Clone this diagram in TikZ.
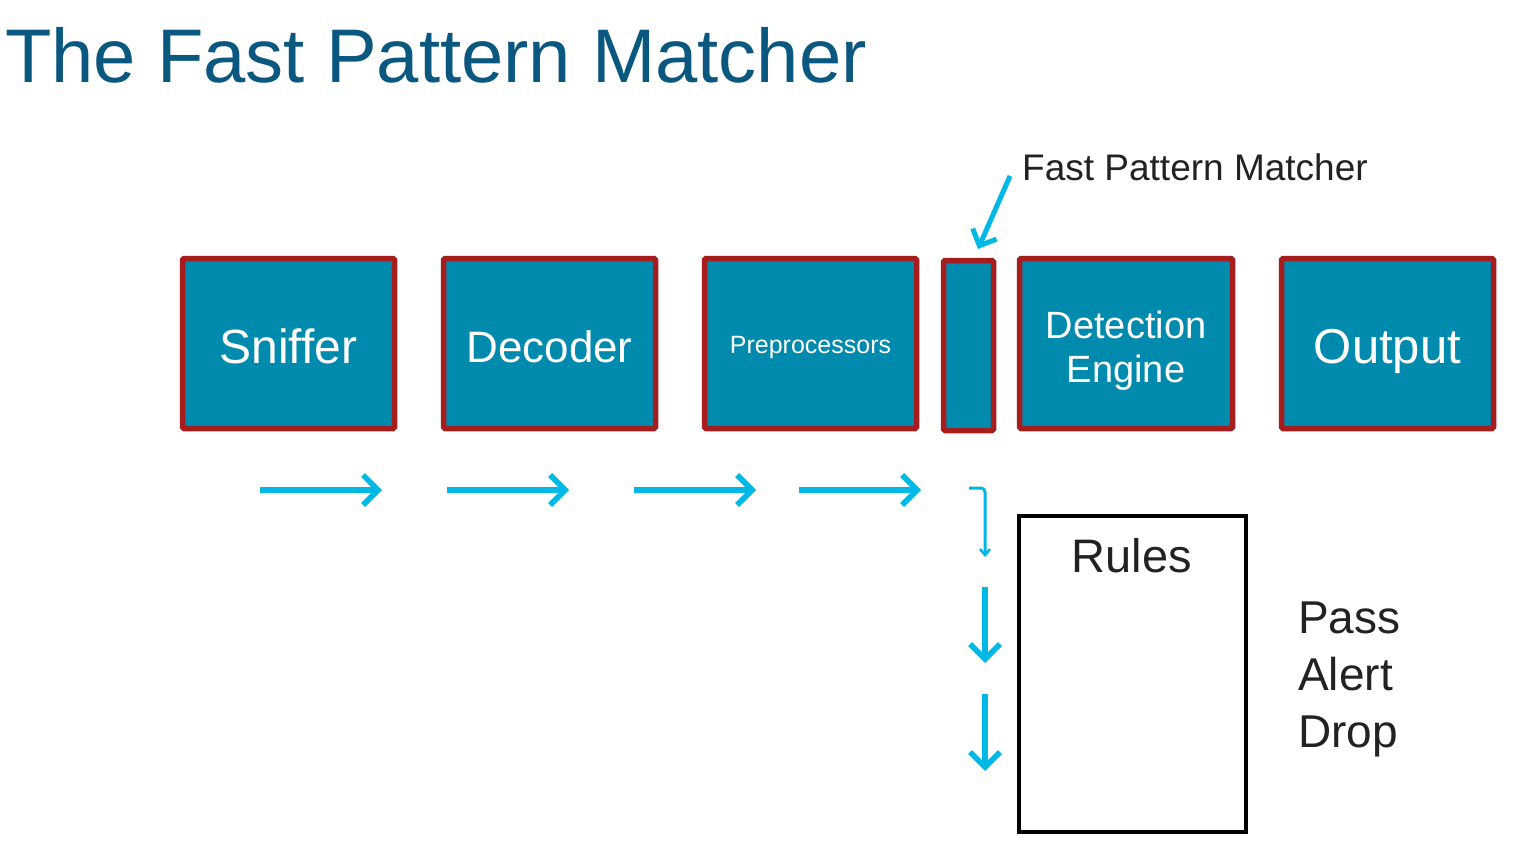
\documentclass[tikz,border=0pt]{standalone}
\usepackage{fontspec}
\setmainfont{Liberation Sans}
\usetikzlibrary{arrows.meta}
\definecolor{titleblue}{HTML}{0A5780}
\definecolor{boxfill}{HTML}{008AAD}
\definecolor{boxborder}{HTML}{A51D1D}
\definecolor{flow}{HTML}{00B8E6}
\definecolor{darktext}{HTML}{222222}
\tikzset{
  stage/.style={draw=boxborder, fill=boxfill, line width=5.5pt, rounded corners=1.5pt,
    text=white, align=center, inner sep=0pt},
  flowarrow/.style={draw=flow, line width=5.5pt, -{Straight Barb[length=15pt,width=30pt,line width=5.5pt]}},
  thinarrow/.style={draw=flow, line width=3pt, rounded corners=4pt, -{Straight Barb[length=6pt,width=10pt,line width=2.5pt]}},
  rulesbox/.style={draw=black, line width=4pt, fill=white, inner sep=0pt},
  plain/.style={inner sep=0pt, text=darktext},
}
\begin{document}
\begin{tikzpicture}[x=1pt,y=-1pt]
\useasboundingbox (0,0) rectangle (1536,862);
\fill[white] (0,0) rectangle (1536,862);

% title
\node[inner sep=0pt, anchor=base west, text=titleblue, font=\fontsize{76}{80}\selectfont] (title) at (5,82)
  {The Fast Pattern Matcher};

% stages
\node[stage, minimum width=212pt, minimum height=170pt] (sniffer) at (288.5,343.5) {};
\node[stage, minimum width=212pt, minimum height=170pt] (decoder) at (549.5,343.5) {};
\node[stage, minimum width=212pt, minimum height=170pt] (prep) at (810.5,343.5) {};
\node[stage, minimum width=50pt, minimum height=170pt] (fpm) at (968.5,345.5) {};
\node[stage, minimum width=213pt, minimum height=170pt] (detect) at (1126,343.5) {};
\node[stage, minimum width=212pt, minimum height=170pt] (output) at (1387.5,343.5) {};

\node[inner sep=0pt, text=white, anchor=base, font=\fontsize{48}{52}\selectfont] (sniffertext) at (288.5,363) {Sniffer};
\node[inner sep=0pt, text=white, anchor=base, font=\fontsize{44}{48}\selectfont] (decodertext) at (549.5,362) {Decoder};
\node[inner sep=0pt, text=white, anchor=base, font=\fontsize{25}{28}\selectfont] (preptext) at (810.5,353) {Preprocessors};
\node[inner sep=0pt, text=white, anchor=base, font=\fontsize{38}{42}\selectfont] (detecttext1) at (1126,338) {Detection};
\node[inner sep=0pt, text=white, anchor=base, font=\fontsize{38}{42}\selectfont] (detecttext2) at (1126,382) {Engine};
\node[inner sep=0pt, text=white, anchor=base, font=\fontsize{49}{52}\selectfont] (outputtext) at (1387.5,363) {Output};

% fast pattern matcher label
\node[plain, anchor=base west, font=\fontsize{37}{40}\selectfont] (fpmlabel) at (1022,180)
  {Fast Pattern Matcher};
\coordinate (fpmtail) at (1010,176);
\coordinate (fpmtip) at (978,249);
\draw[draw=flow, line width=5pt, -{Straight Barb[length=13pt,width=26pt,line width=5pt]}]
  (fpmtail) -- (fpmtip);

% flow arrows
\coordinate (a1s) at (260,490); \coordinate (a1e) at (382,490);
\coordinate (a2s) at (447,490); \coordinate (a2e) at (569,490);
\coordinate (a3s) at (634,490); \coordinate (a3e) at (756,490);
\coordinate (a4s) at (799,490); \coordinate (a4e) at (921,490);
\draw[flowarrow] (a1s) -- (a1e);
\draw[flowarrow] (a2s) -- (a2e);
\draw[flowarrow] (a3s) -- (a3e);
\draw[flowarrow] (a4s) -- (a4e);

\coordinate (hs) at (969,488); \coordinate (hc) at (985,488); \coordinate (he) at (985,557);
\draw[thinarrow] (hs) -- (hc) -- (he);

\coordinate (d1s) at (985,587); \coordinate (d1e) at (985,663);
\coordinate (d2s) at (985,694); \coordinate (d2e) at (985,771);
\draw[flowarrow] (d1s) -- (d1e);
\draw[flowarrow] (d2s) -- (d2e);

% rules
\node[rulesbox, minimum width=227pt, minimum height=316pt] (rules) at (1132.5,673.5) {};
\node[plain, anchor=base, font=\fontsize{47}{50}\selectfont] (rulestext) at (1132,572) {Rules};

% outcomes
\node[plain, anchor=base west, font=\fontsize{46}{50}\selectfont] (pass) at (1298,633) {Pass};
\node[plain, anchor=base west, font=\fontsize{46}{50}\selectfont] (alert) at (1298,690) {Alert};
\node[plain, anchor=base west, font=\fontsize{46}{50}\selectfont] (drop) at (1298,747) {Drop};
\end{tikzpicture}
\end{document}
